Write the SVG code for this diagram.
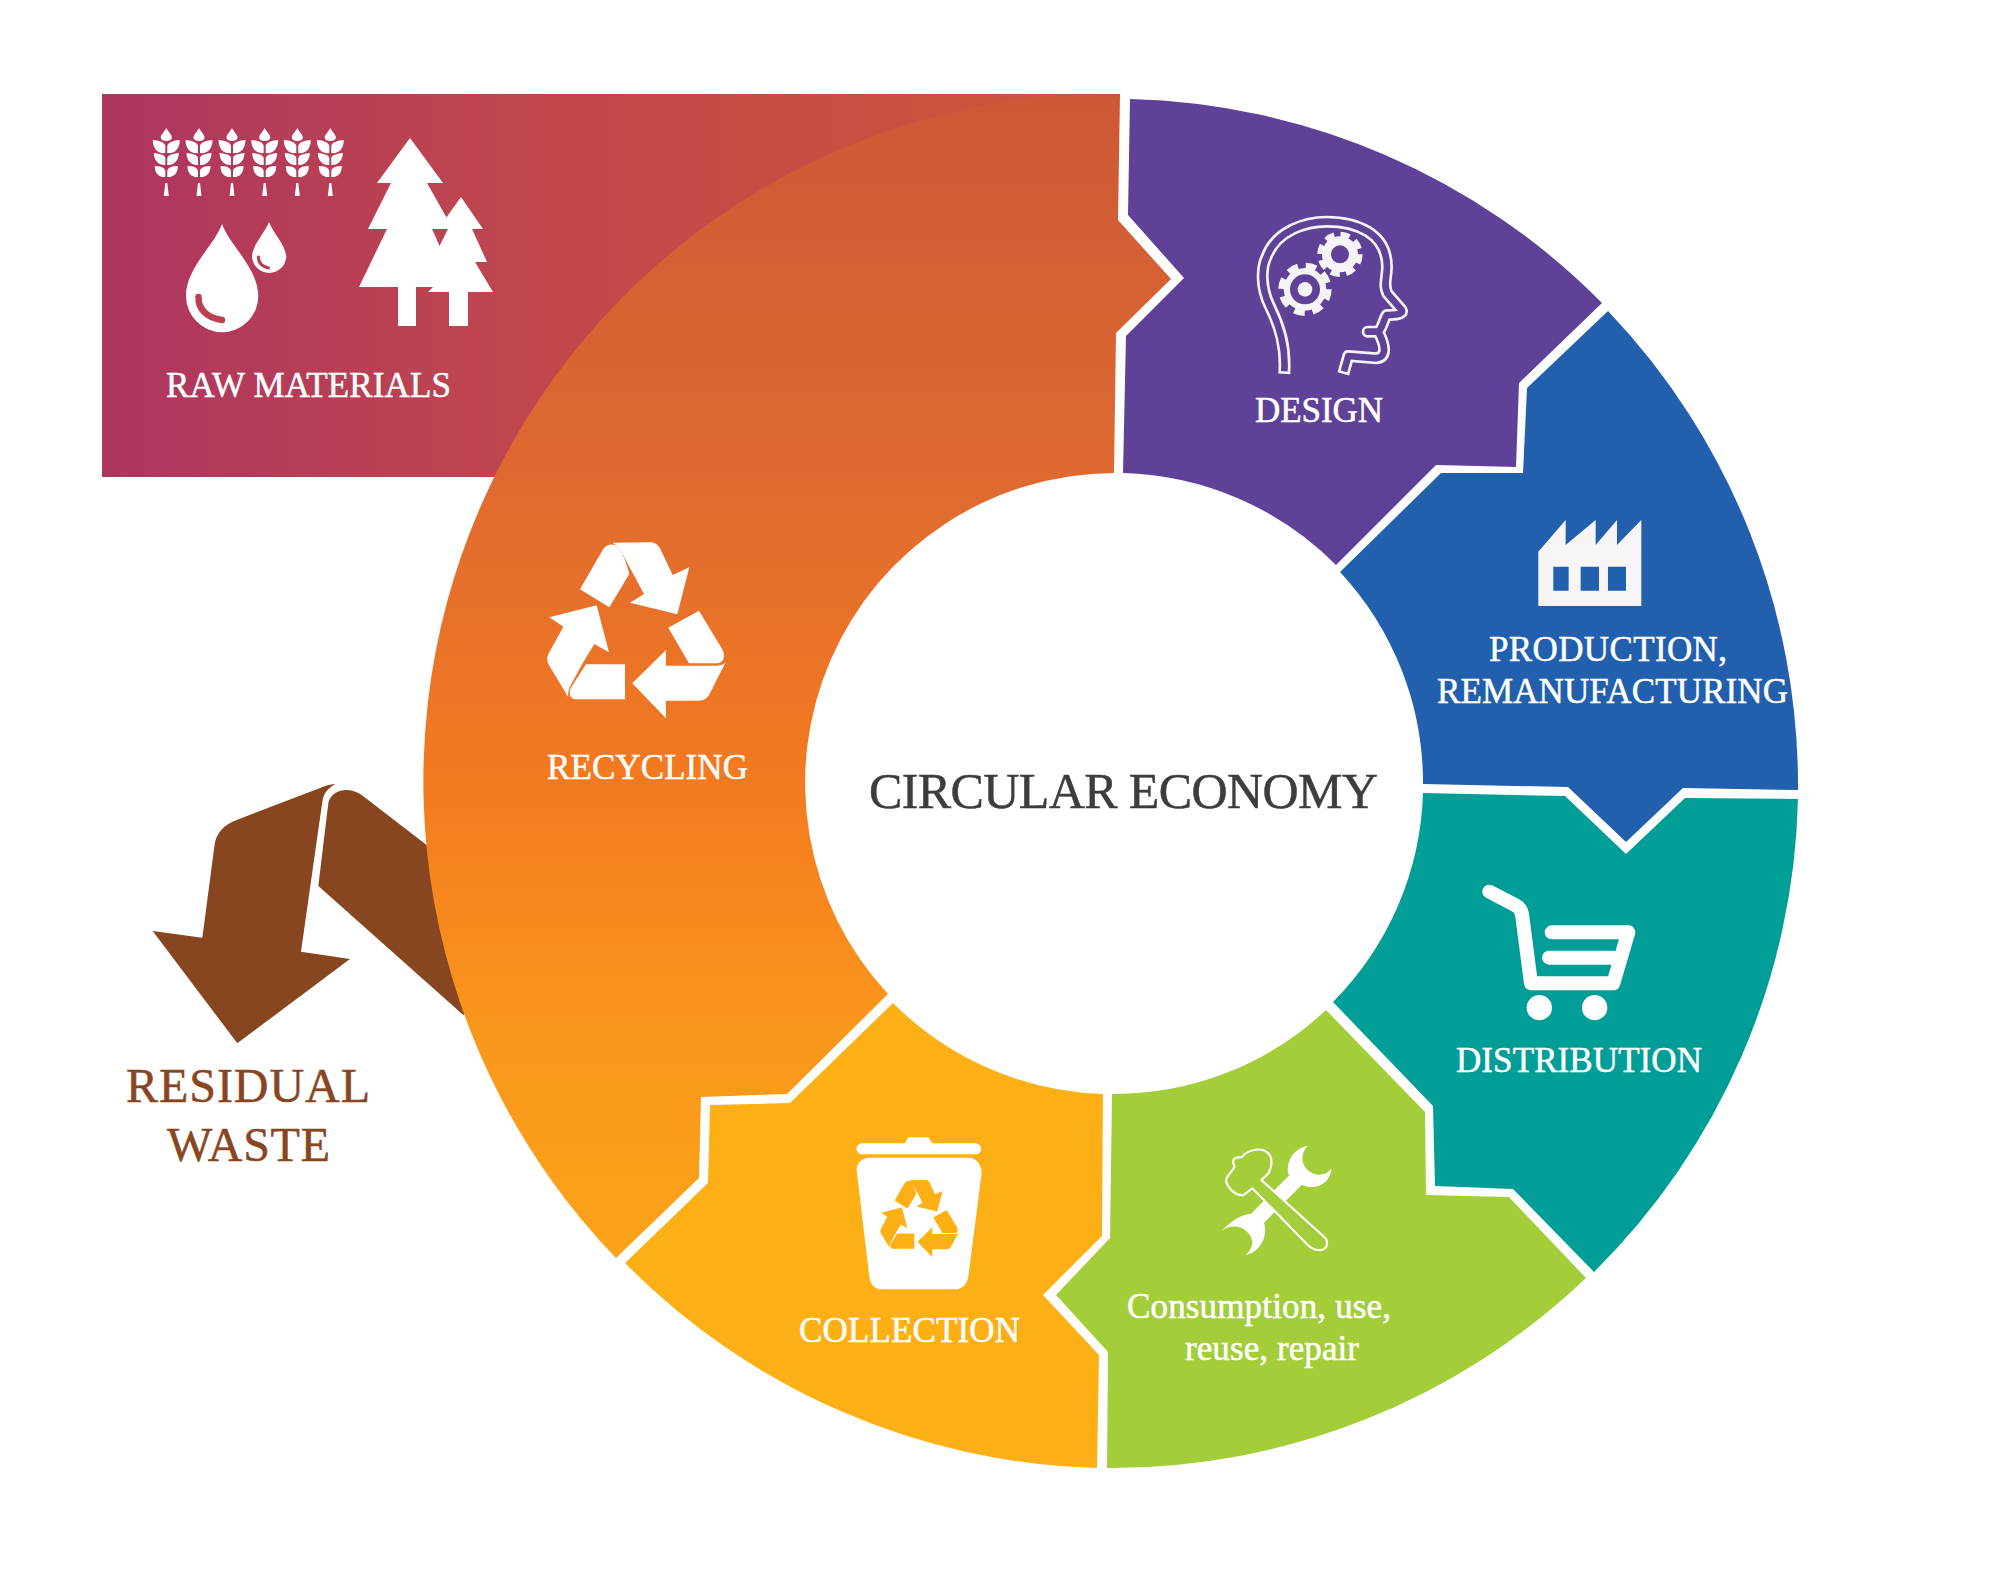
<svg xmlns="http://www.w3.org/2000/svg" xmlns:xlink="http://www.w3.org/1999/xlink" width="2010" height="1592" viewBox="0 0 2010 1592">
<style>
text{font-family:"Liberation Serif","Times New Roman",serif;fill:#fff;stroke:#fff;stroke-width:.5px;font-size:35px}
.w{fill:#fff}
.title{fill:#3d3d40;stroke:#3d3d40;font-size:50px}
.brown{fill:#87461f;stroke:#87461f;font-size:48px}
</style>
<defs>
<linearGradient id="gRaw" gradientUnits="userSpaceOnUse" x1="102" y1="0" x2="1120" y2="0">
<stop offset="0" stop-color="#ad3560"/><stop offset=".35" stop-color="#bd4450"/><stop offset=".7" stop-color="#c64f42"/><stop offset="1" stop-color="#cc5837"/>
</linearGradient>
<linearGradient id="gRec" gradientUnits="userSpaceOnUse" x1="0" y1="94" x2="0" y2="1260">
<stop offset="0" stop-color="#cc5837"/><stop offset=".33" stop-color="#de6a30"/><stop offset=".59" stop-color="#f47a20"/><stop offset=".8" stop-color="#f9961c"/><stop offset="1" stop-color="#fca419"/>
</linearGradient>
<g id="wheat">
<path class="w" d="M0,0C2,4 6,7 5.500,10C5,14 -5,14 -5.500,10C-6,7 -2,4 0,0Z"/>
<path id="wl" class="w" d="M-13.500,12C-8,12.500 -1.500,14 -1,18L-1,25C-8,26 -13.500,21 -13.500,12ZM-12.500,25C-8,25.500 -1.500,26.500 -1,30L-1,37C-7,37.500 -12.500,33 -12.500,25ZM-11.500,38C-7,38 -1.500,39 -1,43L-1,49C-7,49.500 -11.500,46 -11.500,38Z"/>
<use xlink:href="#wl" href="#wl" transform="scale(-1,1)"/>
<path class="w" d="M-1,55L1,55L2.500,68L-2.500,68Z"/>
</g>
<g id="recycle">
<path d="M240,268L305,155C315,135 330,130 345,135C360,145 375,170 388,222L328,322Z"/>
<path d="M338,128L450,127C465,127 475,135 480,145L518,225L568,202L532,343L390,308L432,282L388,200C372,170 358,140 338,128Z"/>
<path d="M505,383L597,332L665,445C680,470 670,490 650,490L567,490Z"/>
<path d="M397,550L498,450L498,497L650,497C665,497 672,492 677,487L630,580C622,597 610,602 595,602L498,602L498,655Z"/>
<path d="M375,493L258,493L212,565C205,580 210,598 228,598L375,598Z"/>
<path d="M148,352L290,316L327,457L283,432L245,495L210,560C205,570 203,580 205,592L148,497C140,483 140,470 148,457L190,380Z"/>
</g>
</defs>

<g id="connectors"></g>

<g id="residual-waste">
<path fill="#87461f" d="M595,378L625,130C630,95 680,75 725,105L920,255L1100,700L1030,765Z" transform="translate(120,760) scale(.3333)"/>
</g>

<g id="raw-materials-rect">
<path fill="url(#gRaw)" d="M102,94H1120L1100,200L600,477H102Z"/>
</g>

<g id="recycling">
<path fill="url(#gRec)" d="M1120,94L1118,220L1171,279L1116,333L1114,473A310,310 0 0 0 888,994L787,1094L701,1097L699,1178L616,1258A687,687 0 0 1 1120,94Z"/>
<use xlink:href="#recycle" href="#recycle" class="w" transform="translate(500,500) scale(.3333)"/>
<text x="547" y="779" textLength="201" lengthAdjust="spacing">RECYCLING</text>
</g>

<g id="raw-materials">
<use xlink:href="#wheat" href="#wheat" transform="translate(166.300,128)"/>
<use xlink:href="#wheat" href="#wheat" transform="translate(199,128)"/>
<use xlink:href="#wheat" href="#wheat" transform="translate(232,128)"/>
<use xlink:href="#wheat" href="#wheat" transform="translate(264.700,128)"/>
<use xlink:href="#wheat" href="#wheat" transform="translate(297.300,128)"/>
<use xlink:href="#wheat" href="#wheat" transform="translate(330.300,128)"/>
<path class="w" d="M222,224C230,246 258,268 258.300,296A36,36 0 0 1 186,296C186,268 214,246 222,224Z"/>
<path d="M198.500,297C198,310 208,318 222,320" fill="none" stroke="#b93f52" stroke-width="6.500" stroke-linecap="round"/>
<path class="w" d="M269,222C273,233 286,245 286.300,257A17.200,17.200 0 0 1 252,257C252,245 265,233 269,222Z"/>
<path d="M258.500,257C258,263 263,267 268.500,268" fill="none" stroke="#b93f52" stroke-width="3" stroke-linecap="round"/>
<path class="w" d="M410,138L443,183L427,183L453,229L432,229L458,287L416,287L416,326L398,326L398,287L359,287L387,229L368,229L391,183L377,183Z"/>
<path class="w" d="M461,197L483,229L472,229L487,262L475,262L493,292L468,292L468,326L449,326L449,292L428,292L434,286L419,287L448,229L438,229Z"/>
<text x="166" y="397" textLength="285" lengthAdjust="spacing">RAW MATERIALS</text>
</g>

<g id="design">
<path fill="#5f4298" d="M1130,99A687,687 0 0 1 1602,303L1519,383L1516,467L1436,465L1336,565A312,312 0 0 0 1123,473L1126,336L1184,278L1128,215Z"/>
<g transform="translate(1100,80) scale(.3333)">
<g fill="none" stroke-linejoin="round">
<path stroke="#f5f3f5" stroke-width="36" d="M553,882C558,800 540,740 510,680C480,620 485,560 500,530C530,450 620,425 680,425C770,425 860,460 861,560C860,600 850,615 862,640L905,690C912,705 880,705 860,705C850,720 848,745 835,755L806,755C800,755 800,755 835,755C858,800 860,830 830,835L745,828L730,882"/>
<path stroke="#5f4298" stroke-width="20" d="M553,874C558,800 540,740 510,680C480,620 485,560 500,530C530,450 620,425 680,425C770,425 860,460 861,560C860,600 850,615 862,640L905,690C912,705 880,705 860,705C850,720 848,745 835,755L806,755C800,755 800,755 835,755C858,800 860,830 830,835L745,828L732,874"/>
</g>
<circle cx="615" cy="628" r="64" fill="#f5f3f5"/>
<circle cx="615" cy="628" r="71" fill="none" stroke="#f5f3f5" stroke-width="18" stroke-dasharray="32 23.800"/>
<circle cx="615" cy="628" r="45" fill="#5f4298"/>
<circle cx="615" cy="628" r="22" fill="#f5f3f5"/>
<circle cx="720" cy="523" r="54" fill="#f5f3f5"/>
<circle cx="720" cy="523" r="60" fill="none" stroke="#f5f3f5" stroke-width="16" stroke-dasharray="28 19.100"/>
<circle cx="720" cy="523" r="27" fill="#5f4298"/>
</g>
<text x="1255" y="422" textLength="128" lengthAdjust="spacing">DESIGN</text>
</g>

<g id="production">
<path fill="#2260ad" d="M1608,311A687,687 0 0 1 1798,790L1683,788L1626,842L1568,787L1423,784A310,310 0 0 0 1340,572L1441,473L1523,473L1527,388Z"/>
<g transform="translate(1400,480) scale(.3333)">
<path fill="#f7f5f5" d="M415,215L497,120L497,195L587,120L587,195L651,120L651,195L724,120L724,378L415,378Z"/>
<path fill="#2260ad" d="M460,260h46v72h-46zM542,260h55v72h-55zM624,260h54v72h-54z"/>
</g>
<text x="1489" y="661" textLength="238" lengthAdjust="spacing">PRODUCTION,</text>
<text x="1437" y="703" textLength="351" lengthAdjust="spacing">REMANUFACTURING</text>
</g>

<g id="distribution">
<path fill="#009e96" d="M1423,793L1565,796L1626,854L1685,798L1798,799A687,687 0 0 1 1594,1272L1513,1189L1435,1186L1433,1106L1333,1002A310,310 0 0 0 1423,793Z"/>
<g transform="translate(1450,860) scale(.3333)">
<path fill="none" stroke="#fff" stroke-width="42" stroke-linecap="round" stroke-linejoin="round" d="M118,95L195,135Q215,145 217,170L243,370L490,370L535,217L305,217M297,293L490,293"/>
<circle cx="268" cy="443" r="38" class="w"/>
<circle cx="434" cy="443" r="38" class="w"/>
</g>
<text x="1456" y="1072" textLength="246" lengthAdjust="spacing">DISTRIBUTION</text>
</g>

<g id="consumption">
<path fill="#a3ce39" d="M1326,1010L1425,1112L1426,1195L1509,1197L1586,1278A687,687 0 0 1 1107,1468L1108,1352L1056,1295L1110,1238L1112,1094A310,310 0 0 0 1326,1010Z"/>
<g transform="translate(1040,1000) scale(.357,.3333)">
<path class="w" d="M750,437C712,445 690,480 695,520C715,560 770,575 800,545C810,535 815,520 817,505C800,530 770,530 750,510C730,490 730,460 750,437Z"/>
<path class="w" d="M508,693C530,670 570,630 610,645C640,665 635,720 610,745C600,757 590,762 575,765C600,745 600,715 580,695C560,675 530,675 508,693Z"/>
<path fill="none" stroke="#fff" stroke-width="45" d="M725,530L600,665"/>
<path fill="#a3ce39" stroke="#fff" stroke-width="6" stroke-linejoin="round" d="M522,545C517,530 540,515 545,500C535,480 545,470 565,472C575,455 605,445 625,450C650,460 655,490 640,520L620,540L800,715C810,735 800,752 780,750C770,750 760,745 750,735L595,565L570,585C550,590 527,565 522,545Z"/>
</g>
<text x="1127" y="1318" textLength="264" lengthAdjust="spacing">Consumption, use,</text>
<text x="1185" y="1360" textLength="174" lengthAdjust="spacing">reuse, repair</text>
</g>

<g id="collection">
<path fill="#fdb016" d="M893,1003L790,1103L710,1105L708,1183L625,1263A687,687 0 0 0 1097,1468L1099,1355L1043,1295L1102,1236L1103,1094A310,310 0 0 1 893,1003Z"/>
<g transform="translate(600,1000) scale(.3333)">
<path class="w" d="M786,430H915L925,412H985L997,430H1127A16.500,16.500 0 0 1 1127,463H786A16.500,16.500 0 0 1 786,430Z"/>
<path class="w" d="M770,510C770,485 790,473 810,473L1105,473C1130,473 1145,495 1145,520L1105,830C1100,855 1085,868 1065,868L845,868C825,868 812,855 808,830Z"/>
</g>
<use xlink:href="#recycle" href="#recycle" fill="#fdb016" transform="translate(859.600,1161.500) scale(.1459)"/>
<text x="799" y="1342" textLength="221" lengthAdjust="spacing">COLLECTION</text>
</g>

<g id="residual-arrow">
<path fill="#87461f" d="M98,513L247,533L283,260C287,220 310,195 350,180L610,80C625,75 635,72 645,72C625,85 610,100 607,125L543,575L690,597L352,850Z" transform="translate(120,760) scale(.3333)"/>
<text class="brown" x="126" y="1102" textLength="244" lengthAdjust="spacing">RESIDUAL</text>
<text class="brown" x="167" y="1161" textLength="163" lengthAdjust="spacing">WASTE</text>
</g>

<g id="center">
<text class="title" x="869" y="808" textLength="509" lengthAdjust="spacing">CIRCULAR ECONOMY</text>
</g>
</svg>
